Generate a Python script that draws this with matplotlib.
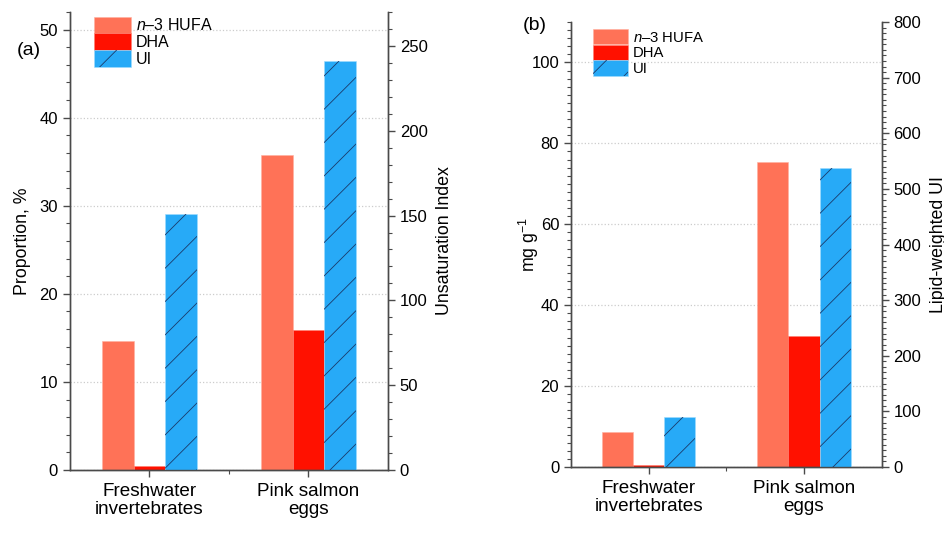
import matplotlib.pyplot as plt
import numpy as np

plt.rcParams["font.family"] = ["Liberation Sans", "DejaVu Sans"]
plt.rcParams["mathtext.fontset"] = "custom"
plt.rcParams["mathtext.rm"] = "Liberation Sans"
plt.rcParams["mathtext.it"] = "Liberation Sans:italic"
plt.rcParams["hatch.linewidth"] = 0.6

categories = ["Freshwater\ninvertebrates", "Pink salmon\neggs"]
series_names = ["$\\it{n\u20133}$ HUFA", "DHA", "UI"]

# panel (a): proportion, % (left) and unsaturation index (right)
hufa_pct = [14.6, 35.8]
dha_pct = [0.4, 15.9]
ui_index = [151, 241]

# panel (b): mg g-1 (left) and lipid-weighted UI (right)
hufa_mg = [8.7, 75.3]
dha_mg = [0.4, 32.4]
ui_lipid = [90, 538]

C_HUFA = "#ff7257"
C_DHA = "#ff1100"
C_UI = "#27aaf7"
HATCH = "#1a3a6a"
SPINE = "#4a4a4a"


def draw_panel(fig, rect, hufa, dha, ui, left_lim, right_lim, left_major, left_minor,
               right_major, right_minor, ylabel, y2label, pads, tag, tag_xy, leg_anchor, leg_fs):
    ax = fig.add_axes(rect)
    ax2 = ax.twinx()
    x = np.arange(1, len(categories) + 1)
    w = 0.2
    b1 = ax.bar(x - w, hufa, w, color=C_HUFA, edgecolor="#ffb0a0", linewidth=0.4, zorder=2)
    b2 = ax.bar(x, dha, w, color=C_DHA, edgecolor="#ff8070", linewidth=0.4, zorder=2)
    b3 = ax2.bar(x + w, ui, w, color=C_UI, edgecolor="#9fdcff", linewidth=0.4, zorder=2)
    b3h = ax2.bar(x + w, ui, w, facecolor="none", edgecolor=HATCH, linewidth=0, hatch="/", zorder=3)

    ax.set_xlim(0.5, 2.5)
    ax.set_ylim(*left_lim)
    ax2.set_ylim(*right_lim)
    ax.set_yticks(np.arange(0, left_lim[1] + 0.01, left_major))
    ax.set_yticks(np.arange(0, left_lim[1] + 0.01, left_minor), minor=True)
    ax2.set_yticks(np.arange(0, right_lim[1] + 0.01, right_major))
    ax2.set_yticks(np.arange(0, right_lim[1] + 0.01, right_minor), minor=True)
    ax.set_xticks(x)
    ax.set_xticklabels(categories, linespacing=1.15)
    ax.set_xticks([1.5], minor=True)

    for a in (ax, ax2):
        a.spines["top"].set_visible(False)
        for s in a.spines.values():
            s.set_color(SPINE)
            s.set_linewidth(1.0)
        a.tick_params(which="major", length=5, width=1, color=SPINE, labelsize=12, direction="out")
        a.tick_params(which="minor", length=3, width=0.8, color=SPINE, direction="out")
    ax.tick_params(axis="x", pad=4, labelsize=13.6)

    ax.grid(axis="y", which="major", color="#cccccc", linestyle=":", linewidth=0.9, zorder=0)
    ax.set_axisbelow(True)

    ax.set_ylabel(ylabel, fontsize=12.8, labelpad=pads[0])
    ax2.set_ylabel(y2label, fontsize=12.8, labelpad=pads[1])

    fig.text(tag_xy[0], tag_xy[1], tag, fontsize=14, ha="center", va="center")

    leg = ax.legend([b1, b2, (b3, b3h)], series_names, loc="upper left", bbox_to_anchor=leg_anchor,
                    frameon=False, fontsize=leg_fs, handlelength=2.3, handleheight=1.25,
                    handletextpad=0.35, labelspacing=0.0, borderaxespad=0, borderpad=0)
    leg.set_zorder(5)
    return ax, ax2


fig = plt.figure(figsize=(9.45, 5.45), dpi=100)

draw_panel(fig, [0.074, 0.1376, 0.3366, 0.8404], hufa_pct, dha_pct, ui_index,
           (0, 52), (0, 270), 10, 2, 50, 10,
           "Proportion, %", "Unsaturation Index", (6, 6), "(a)", (0.030, 0.908),
           (0.075, 0.99), 11.5)

draw_panel(fig, [0.6042, 0.1431, 0.3288, 0.8165], hufa_mg, dha_mg, ui_lipid,
           (0, 110), (0, 800), 20, 2, 100, 10,
           "mg g$^{-1}$", "Lipid-weighted UI", (-7, 6), "(b)", (0.566, 0.953),
           (0.072, 0.985), 10.7)

fig.savefig("out.png", dpi=100)
